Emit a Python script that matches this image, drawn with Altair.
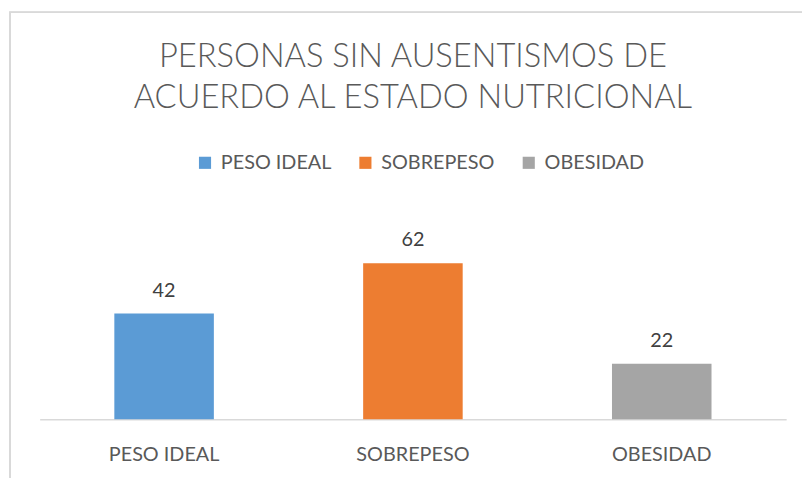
import altair as alt
import pandas as pd

categories = ["PESO IDEAL", "SOBREPESO", "OBESIDAD"]
values = [42, 62, 22]
colors = ["#5B9BD5", "#ED7D31", "#A5A5A5"]
title_lines = ["PERSONAS SIN AUSENTISMOS DE", "ACUERDO AL ESTADO NUTRICIONAL"]

df = pd.DataFrame({"categoria": categories, "valor": values})

FONT = "Lato"

x_enc = alt.X(
    "categoria:N",
    sort=categories,
    scale=alt.Scale(paddingInner=0.6, paddingOuter=0.3),
    axis=alt.Axis(
        title=None, labelAngle=0, ticks=False, domainColor="#D9D9D9", domainWidth=1.5,
        labelFontSize=20, labelColor="#595959", labelFont=FONT, labelPadding=26,
        labelBaseline="top",
    ),
)
y_enc = alt.Y("valor:Q", scale=alt.Scale(domain=[0, 70]), axis=None)

bars = alt.Chart(df).mark_bar().encode(
    x=x_enc,
    y=y_enc,
    color=alt.Color(
        "categoria:N",
        sort=categories,
        scale=alt.Scale(domain=categories, range=colors),
        legend=alt.Legend(
            title=None, orient="none", legendX=157, legendY=-91, direction="horizontal",
            symbolType="square", symbolSize=150, symbolStrokeWidth=0, labelFontSize=20,
            labelColor="#595959", labelFont=FONT, columnPadding=24, labelOffset=6,
        ),
    ),
)

labels = alt.Chart(df).mark_text(
    baseline="alphabetic", dy=-17, fontSize=20, color="#404040", font=FONT
).encode(x=alt.X("categoria:N", sort=categories), y="valor:Q", text="valor:Q")

frame = alt.Chart(df).mark_rect(
    fill=None, stroke="#D9D9D9", strokeWidth=1.5, clip=False
).encode(
    x=alt.value(-30), x2=alt.value(900), y=alt.value(-233), y2=alt.value(400)
)

chart = alt.layer(frame, bars, labels).properties(
    width=754,
    height=178,
    padding={"left": 32, "top": 235, "right": 16, "bottom": 57},
    autosize=alt.AutoSizeParams(type="none"),
    title=alt.TitleParams(
        text=title_lines, font=FONT, fontSize=33, fontWeight=300, color="#595959",
        anchor="middle", offset=0, dy=137, lineHeight=41, baseline="bottom", frame="group",
    ),
).configure_view(stroke=None)

chart.save("out.html", embed_options={"renderer": "svg", "actions": False})
